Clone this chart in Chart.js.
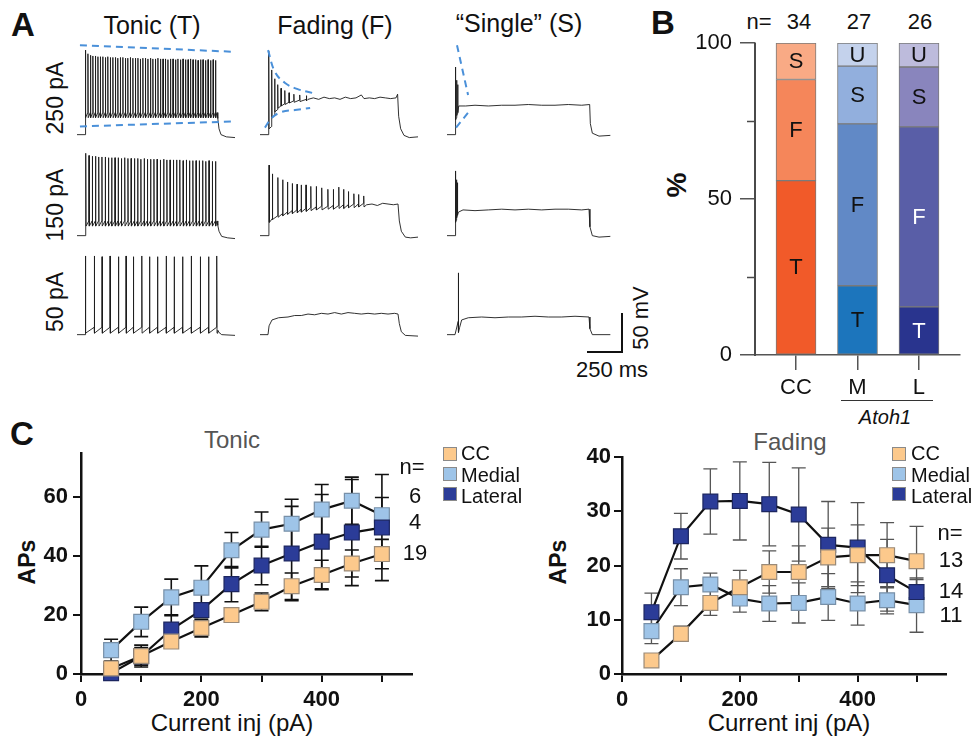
<!DOCTYPE html>
<html>
<head>
<meta charset="utf-8">
<title>Firing patterns</title>
<script src="https://cdn.jsdelivr.net/npm/chart.js@4.4.0/dist/chart.umd.min.js"></script>
<style>
  html, body { margin: 0; padding: 0; background: #fff; }
  #fig { position: relative; width: 973px; height: 739px; overflow: hidden;
         font-family: Arial, "Liberation Sans", Helvetica, sans-serif; color: #111; }
  #fig canvas { position: absolute; }
  .t { position: absolute; transform: translate(-50%, -50%); white-space: nowrap; line-height: 1; }
  .rot { transform: translate(-50%, -50%) rotate(-90deg); }
  .l { position: absolute; transform: translate(0, -50%); white-space: nowrap; line-height: 1; }
  .panel { font-weight: bold; font-size: 33px; }
  .sq { position: absolute; width: 12px; height: 12px; border: 1px solid #8a8a8a; }
  .bar { position: absolute; background: #111; }
</style>
</head>
<body>
<div id="fig">
  <!-- panel A -->
  <div class="t panel" style="left:23px;top:24px">A</div>
  <div class="t" style="left:152px;top:25px;font-size:25px">Tonic (T)</div>
  <div class="t" style="left:335px;top:25px;font-size:25px">Fading (F)</div>
  <div class="t" style="left:519px;top:23px;font-size:25px">“Single” (S)</div>
  <div class="t rot" style="left:55px;top:98px;font-size:23px">250 pA</div>
  <div class="t rot" style="left:55px;top:205px;font-size:23px">150 pA</div>
  <div class="t rot" style="left:55px;top:302px;font-size:23px">50 pA</div>
  <div class="bar" style="left:621px;top:313px;width:1.5px;height:40px"></div>
  <div class="bar" style="left:587px;top:351px;width:36px;height:1.5px"></div>
  <div class="t rot" style="left:641px;top:318px;font-size:22px">50 mV</div>
  <div class="t" style="left:612px;top:370px;font-size:22px">250 ms</div>

  <!-- panel B -->
  <div class="t panel" style="left:663px;top:22px">B</div>
  <div class="t" style="left:759px;top:22px;font-size:22px">n=</div>
  <div class="t rot" style="left:677px;top:185px;font-size:28px;font-weight:bold">%</div>
  <div class="bar" style="left:841px;top:400px;width:92px;height:1.2px;background:#333"></div>
  <div class="t" style="left:885px;top:417px;font-size:20px;font-style:italic">Atoh1</div>

  <!-- panel C -->
  <div class="t panel" style="left:22px;top:433px">C</div>
  <div class="t" style="left:232px;top:440px;font-size:24px;color:#555">Tonic</div>
  <div class="t rot" style="left:27px;top:562px;font-size:23px;font-weight:bold">APs</div>
  <div class="t" style="left:232px;top:723px;font-size:24px">Current inj (pA)</div>
  <div class="t" style="left:790px;top:442px;font-size:24px;color:#555">Fading</div>
  <div class="t rot" style="left:558px;top:562px;font-size:23px;font-weight:bold">APs</div>
  <div class="t" style="left:789px;top:723px;font-size:24px">Current inj (pA)</div>
</div>

<script>
// ========== 放电模式图 — Chart.js 复刻 ==========

const FONT = 'Arial, "Liberation Sans", Helvetica, sans-serif';

// ── A: 电流钳记录（ms, mV） ──
const REST = -70;

const tonic250Spikes = [4, 22, 41, 59, 78, 97, 115, 134, 153, 171, 190, 209, 228, 246, 265, 284, 303, 321, 340, 359,
  378, 397, 415, 434, 453, 472, 491, 509, 528, 547, 566, 585, 603, 622, 641, 660, 679, 697, 716, 735,
  754, 773, 791, 810, 829, 848, 867, 885, 904, 923, 942, 961, 979];
const tonic250Peaks = [45, 40, 38, 37, 37, 36, 36, 36, 35, 36, 35, 35, 35, 34, 35, 35, 34, 34, 35, 34,
  34, 34, 33, 34, 34, 33, 34, 33, 33, 34, 33, 33, 33, 32, 33, 33, 32, 33, 32, 33,
  32, 32, 33, 32, 32, 31, 32, 32, 31, 32, 31, 32, 31];
const tonic250Ahp = -47;
const tonic250Tail = [[990, -40], [996, -48], [1005, -62], [1020, -70], [1060, -73], [1125, -74]];

const tonic150Spikes = [6, 30, 55, 79, 103, 127, 152, 176, 200, 225, 249, 273, 298, 322, 346, 371, 395, 419, 444, 468,
  492, 517, 541, 565, 590, 614, 638, 663, 687, 711, 736, 760, 784, 809, 833, 857, 882, 906, 930, 955, 979];
const tonic150Peaks = [42, 39, 38, 38, 37, 37, 37, 36, 36, 36, 36, 35, 36, 35, 35, 35, 35, 34, 35, 34,
  34, 34, 34, 33, 34, 33, 33, 33, 33, 33, 32, 33, 32, 32, 32, 32, 32, 31, 32, 31, 31];
const tonic150Ahp = -57;
const tonic150Tail = [[990, -50], [996, -56], [1005, -64], [1025, -71], [1070, -73], [1125, -74]];

const tonic50Spikes = [4, 70, 128, 188, 251, 308, 363, 426, 484, 544, 609, 669, 732, 797, 865, 927, 988];
const tonic50Peaks = [37, 37, 36, 37, 36, 37, 36, 37, 36, 36, 37, 36, 36, 37, 36, 36, 37];
const tonic50Ahp = -68;
const tonic50Tail = [[996, -64], [1005, -67], [1025, -70], [1125, -71]];

const fading250Spikes = [6, 28, 50, 73, 98, 126, 158, 194, 238, 288];
const fading250Peaks = [44, 18, 6, -2, -7, -10, -13, -15, -16, -17];
const fading250Ahp = [-62, -47, -39, -34, -31, -29, -27, -26, -25, -24];
const fading250Tail = [[300, -22], [340, -20], [380, -22], [420, -19], [460, -21], [500, -20], [540, -22],
  [580, -19], [620, -21], [660, -20], [700, -16], [720, -21], [760, -20], [800, -21], [840, -19],
  [880, -20], [920, -21], [960, -20], [972, -15], [980, -45], [995, -62], [1020, -71], [1060, -74], [1125, -73]];

const fading150Spikes = [8, 33, 74, 110, 146, 182, 218, 249, 285, 321, 362, 403, 449, 490, 531, 567, 603, 644, 679, 718];
const fading150Peaks = [26, 14, 9, 6, 3, 1, 0, -1, -1, -3, -3, -5, -7, -7, -4, -7, -10, -13, -14, -16];
const fading150Ahp = [-52, -48, -45, -43, -41, -40, -39, -38, -37, -36, -35, -35, -34, -34, -33, -33, -32, -32, -31, -31];
const fading150Tail = [[740, -28], [780, -27], [820, -29], [860, -26], [900, -27], [940, -28], [975, -27],
  [985, -50], [1000, -64], [1030, -72], [1070, -73], [1125, -72]];

const fading50Spikes = [];
const fading50Peaks = [];
const fading50Ahp = [];
const fading50Tail = [[8, -58], [30, -50], [80, -47], [150, -46], [200, -44], [250, -44], [300, -42], [350, -43],
  [400, -41], [450, -42], [500, -40], [550, -42], [600, -40], [650, -41], [700, -42], [750, -41], [800, -42],
  [850, -41], [900, -42], [950, -41], [975, -42], [985, -55], [1000, -66], [1030, -71], [1125, -72]];

const single250Spikes = [4, 12, 20];
const single250Peaks = [22, 4, -2];
const single250Ahp = [-50, -44, -40];
const single250Tail = [[28, -31], [80, -31], [150, -30], [250, -31], [350, -30], [450, -30], [550, -29], [650, -30],
  [750, -30], [850, -29], [950, -30], [1010, -29], [1015, -55], [1030, -68], [1080, -72], [1165, -71]];

const single150Spikes = [4, 11, 18];
const single150Peaks = [18, 6, 2];
const single150Ahp = [-52, -46, -42];
const single150Tail = [[26, -38], [60, -35], [150, -36], [250, -35], [350, -34], [450, -35], [550, -34], [650, -35],
  [750, -34], [850, -34], [950, -35], [1005, -34], [1012, -58], [1030, -70], [1080, -72], [1165, -71]];

const single50Spikes = [25];
const single50Peaks = [14];
const single50Ahp = [-67];
const single50Tail = [[35, -60], [50, -50], [100, -47], [200, -46], [300, -47], [400, -46], [500, -46], [600, -45],
  [700, -46], [800, -46], [900, -45], [1005, -46], [1012, -62], [1030, -70], [1165, -70]];

// 蓝色虚线包络
const tonicEnvTop = [[-38, 51.6], [1128, 42.6]];
const tonicEnvBottom = [[-38, -58.8], [1128, -52]];
const fadingEnvTop = [[0, 44.9], [53, 15.1], [128, 0.3], [218, -7.8], [331, -13.2]];
const fadingEnvBottom = [[-23, -60.5], [30, -47], [105, -39], [203, -36.5], [316, -33.8]];
const singleEnvTop = [[15, 51.6], [98, -16]];
const singleEnvBottom = [[8, -60.5], [98, -40]];

// ── B: 各组放电类型比例 (%) ──
const groups = ['CC', 'M', 'L'];
const groupPos = [1, 2, 3];
const nCells = [34, 27, 26];
const pctT = [55.9, 22.2, 15.4];
const pctF = [32.4, 51.9, 57.7];
const pctS = [11.7, 18.5, 19.2];
const pctU = [0, 7.4, 7.7];
const colT = ['#f15a29', '#1c75bc', '#29348e'];
const colF = ['#f5865a', '#6189c6', '#595ea7'];
const colS = ['#f9aa85', '#92afdd', '#8985bd'];
const colU = ['#f9c9b0', '#c4d2ec', '#bdbbdc'];
const inkT = ['#111', '#111', '#fff'];
const inkF = ['#111', '#111', '#fff'];
const inkS = ['#111', '#111', '#111'];
const inkU = ['#111', '#111', '#111'];

// ── C: 动作电位数 vs 注入电流 ──
const currents = [50, 100, 150, 200, 250, 300, 350, 400, 450, 500];

const tonicCC = [1.9, 6.1, 11, 15.6, 20, 24.5, 29.8, 33.6, 37.5, 40.7];
const tonicCCErr = [2, 3.7, 1.2, 3, 1.5, 3, 4.5, 5, 4.6, 5];
const tonicMedial = [8.1, 17.7, 26, 29.3, 42, 49, 51, 55.8, 58.8, 53.9];
const tonicMedialErr = [3.7, 5, 6.2, 7.4, 6, 6, 8.3, 8.5, 8, 6];
const tonicLateral = [0.3, 6, 15.1, 21.7, 30.5, 36.8, 40.9, 44.9, 48, 49.7];
const tonicLateralErr = [1, 3, 5, 2.5, 6, 6.5, 16, 16, 18, 18];

const fadeCC = [2.5, 7.4, 13.1, 16, 18.8, 18.8, 21.5, 21.9, 21.9, 20.8];
const fadeCCErr = [0.5, 1.4, 2.3, 3.1, 3.9, 4.8, 5.4, 5.6, 6, 6.4];
const fadeMedial = [7.9, 16, 16.5, 13.9, 13, 13.1, 14.2, 13, 13.6, 12.7];
const fadeMedialErr = [2.3, 3.4, 2.1, 2.5, 3.3, 3.7, 4.3, 4, 2.5, 5];
const fadeLateral = [11.4, 25.4, 31.8, 31.9, 31.3, 29.4, 23.8, 23.3, 18.2, 15.1];
const fadeLateralErr = [3.5, 4.2, 6, 7.2, 7.7, 8.6, 8, 8.3, 6.6, 2.3];

const seriesNames = ['CC', 'Medial', 'Lateral'];
const seriesFill = ['#fcc98c', '#9ec4e8', '#2b3c98'];
const seriesEdge = ['#9a8a78', '#7890a8', '#1c2660'];
const tonicN = ['6', '4', '19'];
const fadingN = ['13', '14', '11'];

// ── 公共设置 ──
Chart.defaults.font.family = FONT;
Chart.defaults.color = '#111';
Chart.defaults.animation = false;
Chart.defaults.plugins.legend.display = false;
Chart.defaults.plugins.tooltip.enabled = false;

const fig = document.getElementById('fig');

function makeCanvas(left, top, w, h) {
  const cv = document.createElement('canvas');
  cv.width = w; cv.height = h;
  cv.style.left = left + 'px';
  cv.style.top = top + 'px';
  cv.style.width = w + 'px';
  cv.style.height = h + 'px';
  fig.appendChild(cv);
  return cv;
}

function addText(txt, x, y, size, cls) {
  const d = document.createElement('div');
  d.className = cls || 't';
  d.style.left = x + 'px';
  d.style.top = y + 'px';
  d.style.fontSize = size + 'px';
  d.textContent = txt;
  fig.appendChild(d);
}

// ── A: 记录曲线 ──
const TRACE_W = 164, TRACE_H = 100;
const colLeft = [77, 260, 447];
const rowTop = [42, 143, 242];

function tracePoints(spikes, peaks, ahp, rise, tail) {
  const pts = [{ x: -60, y: REST }, { x: 0, y: REST }];
  spikes.forEach((t, i) => {
    const a = Array.isArray(ahp) ? ahp[i] : ahp;
    const prev = Array.isArray(ahp) ? ahp[i - 1] : ahp;
    const pre = i === 0 ? -52 : prev + rise;
    pts.push({ x: t - 1.2, y: pre }, { x: t, y: peaks[i] }, { x: t + 2.2, y: a });
  });
  tail.forEach(([x, y]) => pts.push({ x, y }));
  return pts;
}

const traces = [
  { col: 0, row: 0, s: tonic250Spikes, p: tonic250Peaks, a: tonic250Ahp, r: 7, tail: tonic250Tail, env: [tonicEnvTop, tonicEnvBottom] },
  { col: 0, row: 1, s: tonic150Spikes, p: tonic150Peaks, a: tonic150Ahp, r: 7, tail: tonic150Tail, env: [] },
  { col: 0, row: 2, s: tonic50Spikes, p: tonic50Peaks, a: tonic50Ahp, r: 8, tail: tonic50Tail, env: [] },
  { col: 1, row: 0, s: fading250Spikes, p: fading250Peaks, a: fading250Ahp, r: 3, tail: fading250Tail, env: [fadingEnvTop, fadingEnvBottom] },
  { col: 1, row: 1, s: fading150Spikes, p: fading150Peaks, a: fading150Ahp, r: 5, tail: fading150Tail, env: [] },
  { col: 1, row: 2, s: fading50Spikes, p: fading50Peaks, a: fading50Ahp, r: 0, tail: fading50Tail, env: [] },
  { col: 2, row: 0, s: single250Spikes, p: single250Peaks, a: single250Ahp, r: 3, tail: single250Tail, env: [singleEnvTop, singleEnvBottom] },
  { col: 2, row: 1, s: single150Spikes, p: single150Peaks, a: single150Ahp, r: 3, tail: single150Tail, env: [] },
  { col: 2, row: 2, s: single50Spikes, p: single50Peaks, a: single50Ahp, r: 3, tail: single50Tail, env: [] }
];

traces.forEach(tr => {
  const cv = makeCanvas(colLeft[tr.col], rowTop[tr.row], TRACE_W, TRACE_H);
  const datasets = [{
    data: tracePoints(tr.s, tr.p, tr.a, tr.r, tr.tail),
    borderColor: '#1b1b1b', borderWidth: 0.9, pointRadius: 0, tension: 0, order: 1, clip: false
  }];
  tr.env.forEach(e => datasets.push({
    data: e.map(([x, y]) => ({ x, y })),
    borderColor: '#4a90d9', borderWidth: 2, borderDash: [7, 5], pointRadius: 0,
    tension: e.length > 2 ? 0.4 : 0, order: 0, clip: false
  }));
  new Chart(cv, {
    type: 'line',
    data: { datasets },
    options: {
      responsive: false, devicePixelRatio: 1, events: [],
      layout: { padding: 0 },
      scales: {
        x: { type: 'linear', display: false, min: -60, max: 1170 },
        y: { type: 'linear', display: false, min: -80, max: 56 }
      }
    }
  });
});

// ── B: 堆叠柱状图 ──
nCells.forEach((n, i) => addText(String(n), [799, 859, 920][i], 22, 22));

const barLetters = {
  id: 'barLetters',
  afterDraw(chart) {
    const ctx = chart.ctx;
    ctx.save();
    ctx.font = '22px ' + FONT;
    ctx.textAlign = 'center';
    ctx.textBaseline = 'middle';
    chart.data.datasets.forEach((ds, d) => {
      chart.getDatasetMeta(d).data.forEach((bar, i) => {
        if (!ds.data[i].y) return;
        ctx.fillStyle = ds.ink[i];
        ctx.fillText(ds.letter, bar.x, (bar.y + bar.base) / 2 + 1);
      });
    });
    // 次刻度 25 / 75
    const area = chart.chartArea;
    const ys = chart.scales.y;
    ctx.strokeStyle = '#4a4a4a';
    ctx.lineWidth = 1.5;
    [25, 75].forEach(v => {
      const py = Math.round(ys.getPixelForValue(v)) + 0.5;
      ctx.beginPath();
      ctx.moveTo(area.left - 8, py);
      ctx.lineTo(area.left, py);
      ctx.stroke();
    });
    ctx.restore();
    // 纵轴线（页面层）
    const axis = document.createElement('div');
    axis.className = 'bar';
    axis.style.cssText = `left:${690 + area.left - 1}px;top:${area.top}px;width:2px;height:${area.bottom - area.top + 1}px;background:#4a4a4a`;
    fig.appendChild(axis);
  }
};

function stackSet(letter, pct, col, ink) {
  return {
    letter, ink,
    data: groupPos.map((x, i) => ({ x, y: pct[i] })),
    backgroundColor: col,
    borderColor: '#7a7a7a', borderWidth: 1, borderSkipped: false,
    barThickness: 40
  };
}

new Chart(makeCanvas(690, 0, 283, 400), {
  type: 'bar',
  data: {
    datasets: [
      stackSet('T', pctT, colT, inkT),
      stackSet('F', pctF, colF, inkF),
      stackSet('S', pctS, colS, inkS),
      stackSet('U', pctU, colU, inkU)
    ]
  },
  options: {
    responsive: false, devicePixelRatio: 1, events: [],
    layout: { padding: { top: 43, right: 13, left: 0, bottom: 0 } },
    scales: {
      x: {
        type: 'linear', stacked: true, min: 0.333, max: 3.667, offset: false,
        afterBuildTicks: s => { s.ticks = groupPos.map(v => ({ value: v })); },
        afterFit: s => { s.height = 45; },
        ticks: { callback: v => groups[groupPos.indexOf(v)], font: { size: 22 }, padding: 5, color: '#111' },
        grid: { display: true, offset: false, drawOnChartArea: false, tickLength: 15, color: '#555', lineWidth: 1.5 },
        border: { color: '#555', width: 1.5 }
      },
      y: {
        stacked: true, min: 0, max: 100,
        afterFit: s => { s.width = 65; },
        ticks: { stepSize: 25, callback: v => (v % 50 === 0 ? v : ''), font: { size: 22 }, padding: 8, color: '#111' },
        grid: {
          display: true, drawOnChartArea: false, tickLength: 15, lineWidth: 1.5, color: '#555',
          tickColor: c => (c.tick && c.tick.value % 50 ? 'rgba(0,0,0,0)' : '#555')
        },
        border: { display: true, color: '#555', width: 1.5 }
      }
    }
  },
  plugins: [barLetters]
});

// ── C: 折线 + 误差棒 ──
const errorBars = {
  id: 'errorBars',
  beforeDatasetsDraw(chart, args, opts) {
    const { ctx, scales: { x, y } } = chart;
    ctx.save();
    ctx.strokeStyle = opts.color;
    ctx.lineWidth = opts.width;
    chart.data.datasets.forEach(ds => {
      ds.errors.forEach((e, i) => {
        const px = x.getPixelForValue(currents[i]);
        const top = y.getPixelForValue(ds.values[i] + e);
        const bot = y.getPixelForValue(Math.max(ds.values[i] - e, 0));
        ctx.beginPath();
        ctx.moveTo(px, top); ctx.lineTo(px, bot);
        ctx.moveTo(px - 7, top); ctx.lineTo(px + 7, top);
        ctx.moveTo(px - 7, bot); ctx.lineTo(px + 7, bot);
        ctx.stroke();
      });
    });
    ctx.restore();
  }
};

function apSet(k, values, errors) {
  return {
    values, errors,
    data: currents.map((x, i) => ({ x, y: values[i] })),
    borderColor: '#111', borderWidth: 2.2, tension: 0, clip: false,
    pointStyle: 'rect', pointRadius: 10.5,
    pointBackgroundColor: seriesFill[k], pointBorderColor: seriesEdge[k], pointBorderWidth: 1.2
  };
}

function apChart(left, width, padTop, padRight, yWidth, yMax, yStep, sets, barColor, barWidth, tickPad) {
  return new Chart(makeCanvas(left, 420, width, 319), {
    type: 'line',
    data: { datasets: sets },
    options: {
      responsive: false, devicePixelRatio: 1, events: [],
      layout: { padding: { top: padTop, right: padRight, left: 0, bottom: 0 } },
      plugins: { errorBars: { color: barColor, width: barWidth } },
      scales: {
        x: {
          type: 'linear', min: 0, max: 550,
          afterFit: s => { s.height = 65; },
          ticks: {
            stepSize: 100, includeBounds: false, padding: 5, color: '#111',
            font: { size: 22, weight: 'bold' },
            callback: v => (v % 200 === 0 ? v : '')
          },
          grid: { display: true, drawOnChartArea: false, tickLength: 8, color: '#111', lineWidth: 2 },
          border: { color: '#111', width: 2.5 }
        },
        y: {
          min: 0, max: yMax,
          afterFit: s => { s.width = yWidth; },
          ticks: { stepSize: yStep, includeBounds: false, padding: tickPad, color: '#111', font: { size: 22, weight: 'bold' } },
          grid: { display: true, drawOnChartArea: false, tickLength: 8, color: '#111', lineWidth: 2 },
          border: { color: '#111', width: 2.5 }
        }
      }
    },
    plugins: [errorBars]
  });
}

// 绘制顺序：CC 在最上层，其次 Lateral，最后 Medial
apChart(0, 480, 33, 68, 81, 75, 20, [
  apSet(0, tonicCC, tonicCCErr),
  apSet(2, tonicLateral, tonicLateralErr),
  apSet(1, tonicMedial, tonicMedialErr)
], '#111', 1.6, 5);

apChart(490, 483, 37, 27, 132, 40, 10, [
  apSet(0, fadeCC, fadeCCErr),
  apSet(2, fadeLateral, fadeLateralErr),
  apSet(1, fadeMedial, fadeMedialErr)
], '#555', 1.3, 3);

// ── 图例与 n 标注 ──
function legend(sqLeft, labelLeft) {
  seriesNames.forEach((name, k) => {
    const sq = document.createElement('div');
    sq.className = 'sq';
    sq.style.left = sqLeft + 'px';
    sq.style.top = (447 + k * 20) + 'px';
    sq.style.background = seriesFill[k];
    fig.appendChild(sq);
    addText(name, labelLeft, 453 + k * 21.5, 20, 'l');
  });
}
legend(443, 461);
legend(892, 911);

addText('n=', 412, 467, 22);
tonicN.forEach((n, i) => addText(n, 415, [496, 522, 553][i], 22));
addText('n=', 950, 533, 22);
fadingN.forEach((n, i) => addText(n, 951, [560, 591, 615][i], 22));
</script>
</body>
</html>
